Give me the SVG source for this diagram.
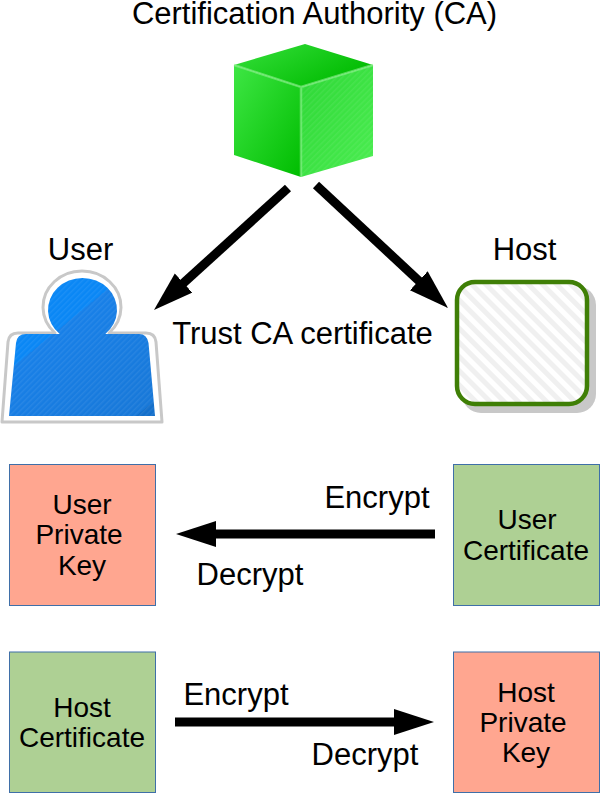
<svg xmlns="http://www.w3.org/2000/svg" width="600" height="793" viewBox="0 0 600 793">
<style>
text{font-family:"Liberation Sans",Arial,sans-serif;font-size:28px;fill:#000;text-anchor:middle}
.big{font-size:31px}
.box{stroke:#3f6fa8;stroke-width:1}
.key{fill:#ffa690}
.cert{fill:#aed094}
.arrow{stroke:#000;stroke-width:9;fill:none;marker-end:url(#head)}
</style>
<defs>
<marker id="head" markerUnits="userSpaceOnUse" markerWidth="42" markerHeight="28" refX="4" refY="13" orient="auto"><path d="M0 0L40 13L0 26Z" fill="#000"/></marker>
<linearGradient id="cubeTop" x1="0" y1="0" x2="1" y2="0.6"><stop offset="0" stop-color="#37e03d"/><stop offset="1" stop-color="#00bb00"/></linearGradient>
<linearGradient id="cubeLeft" x1="0" y1="0" x2="1" y2="1"><stop offset="0" stop-color="#3ee644"/><stop offset="1" stop-color="#00bd00"/></linearGradient>
<linearGradient id="cubeRight" x1="0" y1="0" x2="1" y2="1"><stop offset="0" stop-color="#2cd634"/><stop offset="1" stop-color="#4cee52"/></linearGradient>
<pattern id="fine" width="4" height="4" patternUnits="userSpaceOnUse" patternTransform="rotate(-45)"><rect width="4" height="1.4" fill="#fff" fill-opacity=".07"/></pattern>
<pattern id="stripes" width="10" height="10" patternUnits="userSpaceOnUse" patternTransform="rotate(-45)"><rect width="10" height="10" fill="#fff"/><rect width="5" height="10" fill="#f0f0f0"/></pattern>
<linearGradient id="userFill" gradientUnits="userSpaceOnUse" x1="15" y1="365" x2="88.700" y2="455"><stop offset="0" stop-color="#0a87f5"/><stop offset=".001" stop-color="#1880e8"/><stop offset=".995" stop-color="#1878d8"/><stop offset="1" stop-color="#136fcb"/></linearGradient>
<path id="userShape" d="M59.700 334A34.500 32 0 1 1 105.300 334L139 334Q147 334 148.500 343L155 416L9 416L16 343Q17 334 26 334Z"/>
</defs>
<g id="connectors">
<line class="arrow" x1="288" y1="188" x2="180.600" y2="285.700"/>
<line class="arrow" x1="316" y1="185" x2="421.700" y2="283.500"/>
<line class="arrow" x1="435" y1="534" x2="212" y2="534"/>
<line class="arrow" x1="175" y1="722" x2="398" y2="722"/>
</g>
<g id="ca">
<text class="big" x="314.500" y="24">Certification Authority (CA)</text>
<path d="M305 44L373 65L301 87L234 65Z" fill="url(#cubeTop)"/>
<path d="M234 65L301 87L301 177L234 155Z" fill="url(#cubeLeft)"/>
<path d="M301 87L373 65L373 156L301 177Z" fill="url(#cubeRight)"/>
<path d="M301 87L373 65L373 156L301 177Z" fill="url(#fine)"/>
<path d="M234 65L301 87L373 65M301 87L301 177" fill="none" stroke="#8df08f" stroke-width="2.500" stroke-opacity=".6"/>
</g>
<g id="user">
<text class="big" x="80.500" y="260">User</text>
<path d="M55 333A39 36 0 1 1 109 333L146 333Q155 333 156 342L162 422L2 422L8 342Q9 333 18 333Z" fill="#fff" stroke="#c8c8c8" stroke-width="3" stroke-linejoin="round"/>
<use href="#userShape" fill="url(#userFill)"/>
<use href="#userShape" fill="url(#fine)"/>
</g>
<g id="host">
<text class="big" x="524.500" y="260">Host</text>
<rect x="462" y="286" width="134" height="127" rx="19" fill="#c8c8c8"/>
<rect x="457" y="282" width="130" height="122" rx="18" fill="url(#stripes)" stroke="#3f7f06" stroke-width="4.500"/>
</g>
<g id="trust"><text class="big" x="302.500" y="344">Trust CA certificate</text></g>
<g id="user-private-key">
<rect class="box key" x="9.500" y="464.500" width="146" height="141"/>
<text x="82" y="514">User</text><text x="79" y="544">Private</text><text x="82" y="575">Key</text>
</g>
<g id="user-certificate">
<rect class="box cert" x="453.500" y="464.500" width="146" height="141"/>
<text x="527" y="529">User</text><text x="526" y="560">Certificate</text>
</g>
<g id="host-certificate">
<rect class="box cert" x="9.500" y="652" width="146" height="140.500"/>
<text x="82" y="717">Host</text><text x="82" y="747">Certificate</text>
</g>
<g id="host-private-key">
<rect class="box key" x="453.500" y="652" width="146" height="140.500"/>
<text x="526" y="702">Host</text><text x="523" y="732">Private</text><text x="526" y="762">Key</text>
</g>
<g id="labels">
<text class="big" x="377" y="508">Encrypt</text>
<text class="big" x="250" y="585">Decrypt</text>
<text class="big" x="236" y="705">Encrypt</text>
<text class="big" x="365" y="765">Decrypt</text>
</g>
</svg>
